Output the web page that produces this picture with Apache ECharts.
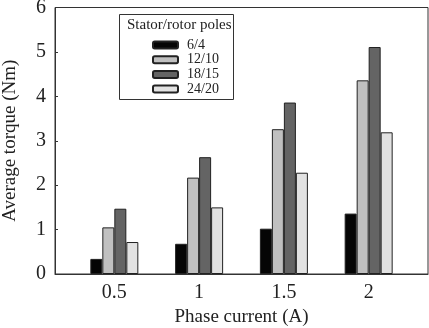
<!DOCTYPE html>
<html>
<head>
	<meta charset="UTF-8">
	<title>Average torque</title>
	<script src="https://cdn.jsdelivr.net/npm/echarts@6/dist/echarts.min.js"></script>
</head>
<body style="margin:0; background:#fff;">
	<div id="container" style="width:429px; height:328px;"></div>
	<script type="text/javascript">
		// phase currents (A)
		var currents = [0.5, 1, 1.5, 2];
		var poleNames = ['6/4', '12/10', '18/15', '24/20'];
		// average torque (Nm)
		var torque64 = [0.34, 0.68, 1.02, 1.36];
		var torque1210 = [1.05, 2.17, 3.26, 4.36];
		var torque1815 = [1.47, 2.63, 3.86, 5.11];
		var torque2420 = [0.72, 1.50, 2.28, 3.19];
		var yTicks = [0, 1, 2, 3, 4, 5, 6];

		var barColors = ['#050505', '#c0c0c0', '#646464', '#e2e2e2'];
		var allData = [torque64, torque1210, torque1815, torque2420];

		function pairs(vals) {
			return currents.map(function (c, i) { return [c, vals[i]]; });
		}

		var font = 'Liberation Serif';
		var series = [];
		for (var k = 0; k < poleNames.length; k++) {
			series.push({
				name: poleNames[k],
				type: 'bar',
				barWidth: 12,
				barGap: '0%',
				itemStyle: {
					color: barColors[k],
					borderColor: '#222',
					borderWidth: 1
				},
				data: pairs(allData[k])
			});
		}

		var myChart = echarts.init(document.getElementById('container'));
		var option = {
			animation: false,
			textStyle: { fontFamily: font, color: '#222' },
			grid: {
				left: 55, right: 1, top: 7.5, bottom: 54,
				outerBoundsMode: 'none',
				containLabel: false,
				show: true, borderColor: '#333', borderWidth: 1
			},
			title: {
				text: 'Stator/rotor poles',
				left: 127, top: 18, padding: 0,
				textStyle: { fontFamily: font, fontSize: 15, fontWeight: 'normal', color: '#222' }
			},
			graphic: [{
				type: 'rect',
				shape: { x: 119.5, y: 14.5, width: 114, height: 85 },
				style: { fill: 'none', stroke: '#333', lineWidth: 1 }
			}],
			legend: {
				orient: 'vertical',
				left: 152, top: 38,
				padding: 0,
				itemWidth: 25, itemHeight: 7,
				itemGap: 0.7,
				data: poleNames,
				textStyle: { fontFamily: font, fontSize: 14, color: '#222', padding: [0, 0, 0, 4] }
			},
			xAxis: {
				type: 'value',
				min: 0.15, max: 2.35,
				name: 'Phase current (A)',
				nameLocation: 'middle',
				nameGap: 34,
				nameTextStyle: { fontFamily: font, fontSize: 19, color: '#222' },
				axisLine: { lineStyle: { color: '#333', width: 1 } },
				axisTick: { show: false },
				splitLine: { show: false },
				axisLabel: {
					customValues: currents,
					margin: 9,
					fontFamily: font, fontSize: 20, color: '#222'
				}
			},
			yAxis: {
				type: 'value',
				min: 0, max: 6, interval: 1,
				name: 'Average torque (Nm)',
				nameLocation: 'middle',
				nameGap: 35,
				nameTextStyle: { fontFamily: font, fontSize: 19, color: '#222' },
				axisLine: { show: true, lineStyle: { color: '#333', width: 1 } },
				axisTick: { show: true, inside: true, length: 3, customValues: yTicks, lineStyle: { color: '#333' } },
				splitLine: { show: false },
				axisLabel: {
					customValues: yTicks,
					margin: 9,
					padding: [3, 0, 0, 0],
					fontFamily: font, fontSize: 20, color: '#222'
				}
			},
			series: series
		};
		myChart.setOption(option);
	</script>
</body>
</html>
